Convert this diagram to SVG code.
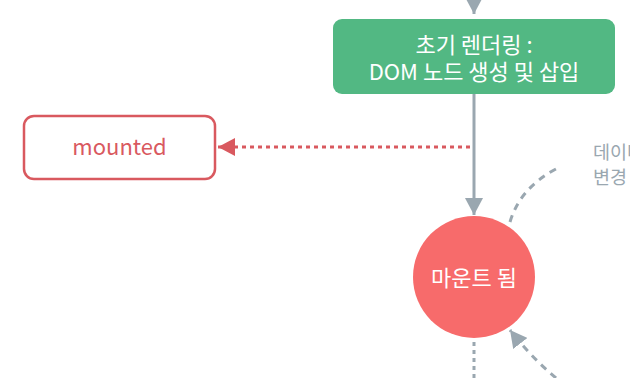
<svg xmlns="http://www.w3.org/2000/svg" width="630" height="378" viewBox="0 0 630 378">
<style>
text{font-family:"Noto Sans CJK KR","Noto Sans",sans-serif;}
.solid{stroke:#9aa7b0;stroke-width:3;fill:none;}
.dash{stroke:#9aa7b0;stroke-width:3;fill:none;stroke-dasharray:7 6;}
.dot{stroke:#9aa7b0;stroke-width:3;fill:none;stroke-dasharray:4 4;}
.reddot{stroke:#d9595f;stroke-width:3;fill:none;stroke-dasharray:4 4;}
.wt{fill:#ffffff;font-size:22px;text-anchor:middle;}
</style>
<defs>
<marker id="ag" markerWidth="18" markerHeight="18" viewBox="0 0 18 18" refX="17" refY="9" orient="auto" markerUnits="userSpaceOnUse">
<path d="M0,0 L17,9 L0,18 Z" fill="#9aa7b0"/>
</marker>
<marker id="ar" markerWidth="18" markerHeight="18" viewBox="0 0 18 18" refX="17" refY="9" orient="auto" markerUnits="userSpaceOnUse">
<path d="M0,0 L17,9 L0,18 Z" fill="#d9595f"/>
</marker>
</defs>
<g id="connectors">
<path class="solid" d="M474,0 L474,14" marker-end="url(#ag)"/>
<path class="solid" d="M474,94 L474,215" marker-end="url(#ag)"/>
<path class="reddot" d="M470,147 L218,147" marker-end="url(#ar)"/>
<path class="dash" d="M510,222 Q520,188 556,169"/>
<path class="dash" d="M556,378 Q530,356 510,330" marker-end="url(#ag)"/>
<path class="dot" d="M474,342 L474,378"/>
</g>
<g id="render">
<rect x="333" y="19" width="282" height="75" rx="9" fill="#52b883"/>
<text class="wt" x="474" y="53" font-size="22.5"><tspan x="474" y="53">초기 렌더링 :</tspan><tspan x="474" y="80">DOM 노드 생성 및 삽입</tspan></text>
</g>
<g id="mounted">
<rect x="24" y="116" width="191" height="63" rx="10" fill="#ffffff" stroke="#d9595f" stroke-width="2.5"/>
<text x="119.5" y="155" font-size="22" fill="#d9595f" text-anchor="middle">mounted</text>
</g>
<g id="mounted-state">
<circle cx="474" cy="277" r="61" fill="#f76b6b"/>
<text class="wt" x="474" y="286" font-size="23">마운트 됨</text>
</g>
<g id="data-change">
<text x="593" y="159" font-size="18.5" fill="#9aa7b0"><tspan x="593" y="159">데이터</tspan><tspan x="593" y="184">변경</tspan></text>
</g>
</svg>
